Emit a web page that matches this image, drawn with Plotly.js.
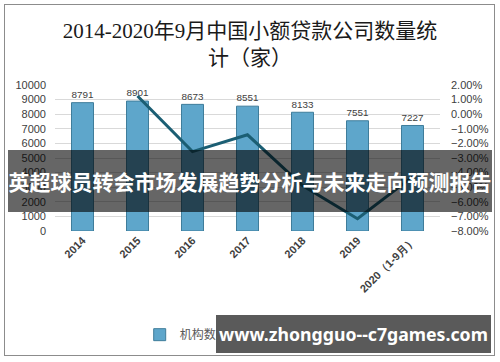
<!DOCTYPE html>
<html>
<head>
<meta charset="utf-8">
<script src="https://cdn.plot.ly/plotly-3.0.1.min.js"></script>
<style>
  html, body { margin: 0; padding: 0; background: #ffffff; }
  #wrap { position: relative; width: 500px; height: 362px; overflow: hidden; }
  #chart { position: absolute; left: 0; top: 0; width: 500px; height: 362px; }
  #frame { position: absolute; left: 4px; top: 4px; width: 489px; height: 350px; border: 1.5px solid #8c8c8c; pointer-events: none; }
  #banner { position: absolute; left: 8px; top: 150px; width: 484px; height: 62px; background: rgba(0,0,0,0.6);
            color: #ffffff; font-family: "Noto Sans CJK SC", sans-serif; font-weight: 700; font-size: 21px;
            line-height: 62px; text-align: center; white-space: nowrap; letter-spacing: 0px; }
  #mark { position: absolute; left: 216px; top: 315px; width: 275px; height: 38px; background: #5a5a5a;
          color: #ffffff; font-family: "Noto Sans", "Open Sans", sans-serif; font-weight: 700; font-size: 17.7px;
          line-height: 38px; text-align: center; white-space: nowrap; }
</style>
</head>
<body>
<div id="wrap">
  <div id="chart"></div>
  <div id="frame"></div>
  <div id="banner">英超球员转会市场发展趋势分析与未来走向预测报告</div>
  <div id="mark">www.zhongguo--c7games.com</div>
</div>
<script>
const categories = ['2014', '2015', '2016', '2017', '2018', '2019', '2020（1-9月）'];
const counts = [8791, 8901, 8673, 8551, 8133, 7551, 7227];
const growthCategories = ['2015', '2016', '2017', '2018', '2019', '2020（1-9月）'];
const growth = [0.0125, -0.0256, -0.0141, -0.0489, -0.0716, -0.0429];
const leftTicks = [0, 1000, 2000, 3000, 4000, 5000, 6000, 7000, 8000, 9000, 10000];
const rightTicks = [-0.08, -0.07, -0.06, -0.05, -0.04, -0.03, -0.02, -0.01, 0, 0.01, 0.02];

const tickColor = '#404040';

const traces = [
  {
    type: 'bar', name: '机构数量', x: categories, y: counts,
    text: counts.map(String), textposition: 'outside', cliponaxis: false,
    textfont: { family: 'Liberation Sans, Arial, sans-serif', size: 11.5, color: tickColor },
    marker: { color: '#5ea6cb', line: { color: '#3f7d9b', width: 1 } },
    width: 0.4
  },
  {
    type: 'scatter', mode: 'lines', name: '增长率', x: growthCategories, y: growth, yaxis: 'y2',
    line: { color: '#1b5e73', width: 3 }
  }
];

const layout = {
  width: 500, height: 362,
  margin: { l: 55, r: 60, t: 85, b: 127 },
  paper_bgcolor: '#ffffff', plot_bgcolor: '#ffffff',
  showlegend: true,
  title: {
    text: '2014-2020年9月中国小额贷款公司数量统<br>计（家）',
    x: 0.5, xanchor: 'center', yref: 'container', y: 0.895, yanchor: 'middle',
    font: { family: 'Liberation Serif, "Noto Sans CJK SC", serif', size: 21, color: '#1a1a1a' }
  },
  xaxis: {
    type: 'category', categoryorder: 'array', categoryarray: categories,
    tickangle: -45, showgrid: false, showline: false, ticks: '',
    tickfont: { family: 'Liberation Sans, Arial, sans-serif', size: 11, color: tickColor, weight: 700 }
  },
  yaxis: {
    range: [0, 10000], tickvals: leftTicks, ticktext: leftTicks.map(String),
    showgrid: true, gridcolor: '#d9d9d9', gridwidth: 1, zeroline: false, showline: false, ticks: '',
    ticklabelstandoff: 8,
    tickfont: { family: 'Liberation Sans, Arial, sans-serif', size: 11, color: tickColor }
  },
  yaxis2: {
    overlaying: 'y', side: 'right', range: [-0.08, 0.02],
    tickvals: rightTicks, tickformat: '.2%',
    showgrid: false, zeroline: false, showline: false, ticks: '',
    ticklabelstandoff: 10,
    tickfont: { family: 'Liberation Sans, Arial, sans-serif', size: 11, color: tickColor }
  },
  legend: {
    orientation: 'h', x: 0.22, xanchor: 'left', y: -0.71, yanchor: 'middle',
    font: { family: '"Noto Sans CJK SC", sans-serif', size: 12, color: '#595959' }
  },
  bargap: 0.6
};

Plotly.newPlot('chart', traces, layout, { displayModeBar: false, staticPlot: true });
</script>
</body>
</html>
